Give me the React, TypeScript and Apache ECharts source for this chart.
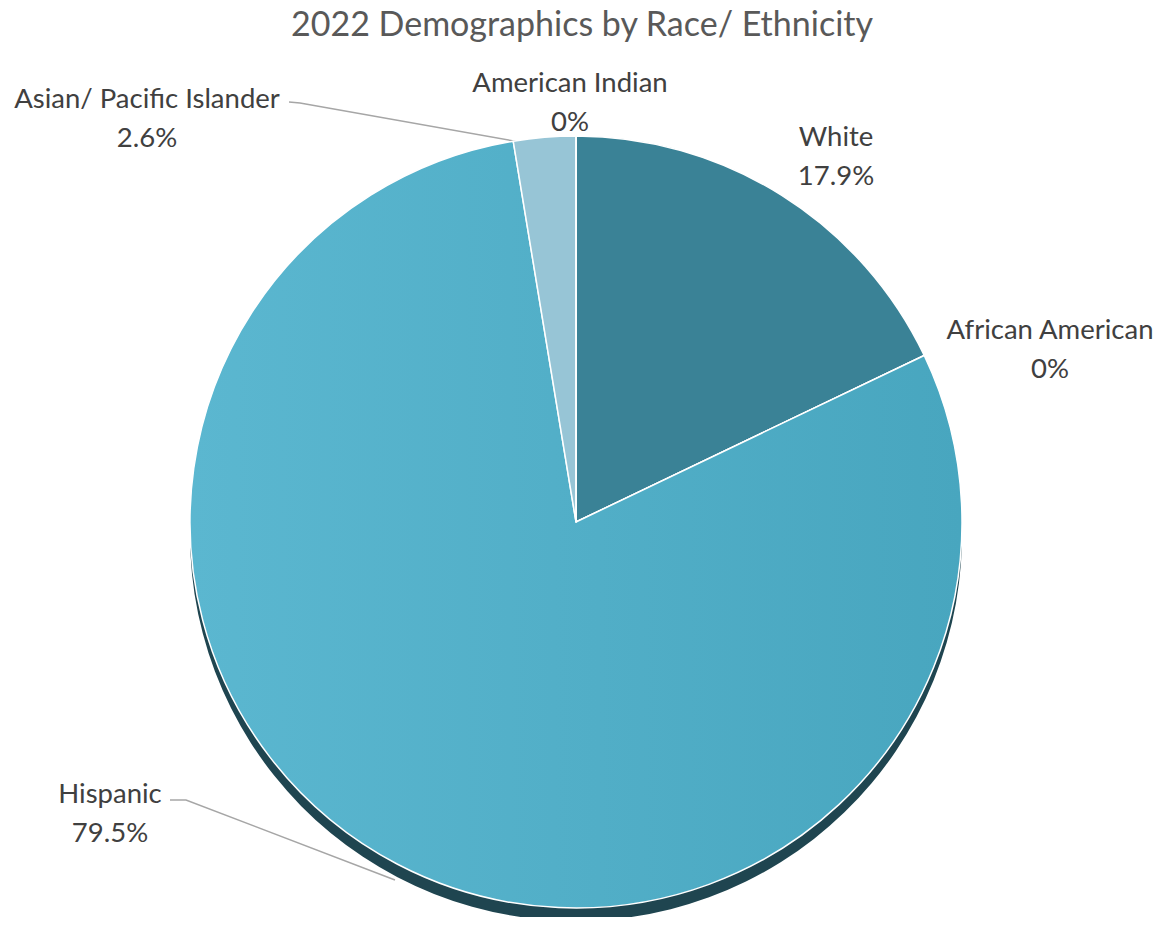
import React, { useEffect, useRef } from "react";
import * as echarts from "echarts";

const categories = ["White", "African American", "Hispanic", "Asian/ Pacific Islander", "American Indian"];
const percentages = [17.9, 0, 79.5, 2.6, 0];
const titleText = "2022 Demographics by Race/ Ethnicity";

const sliceColors = [
  "#3a8296",
  "#4aa8c1",
  {
    type: "linear", x: 0, y: 0, x2: 1, y2: 0,
    colorStops: [
      { offset: 0, color: "#5bb7d0" },
      { offset: 1, color: "#48a6bf" },
    ],
  },
  "#97c5d6",
  "#97c5d6",
];

// label anchor centres (layout only)
const labelCenters: [number, number][] = [
  [836, 155],
  [1050, 348],
  [110, 812],
  [147, 117],
  [570, 101],
];
const labelLines: ([number, number][] | null)[] = [
  null,
  null,
  [[170, 800], [186, 800], [395, 880]],
  [[289, 102], [300, 103], [542, 146]],
  null,
];

export default function App() {
  const ref = useRef<HTMLDivElement>(null);
  useEffect(() => {
    if (!ref.current) return;
    const chart = echarts.init(ref.current, null, { renderer: "svg" });
    const data = categories.map((name, i) => ({
      name,
      value: percentages[i],
      itemStyle: { color: sliceColors[i] as any },
      labelLine: { show: labelLines[i] !== null },
    }));
    const depthData = categories.map((name, i) => ({
      name,
      value: percentages[i],
    }));
    chart.setOption({
      animation: false,
      title: {
        text: titleText,
        left: "center",
        top: 0,
        textStyle: {
          fontFamily: "Lato",
          fontSize: 34,
          fontWeight: "normal",
          color: "#595959",
        },
      },
      series: [
        {
          type: "pie",
          silent: true,
          center: [576, 535],
          radius: 386,
          startAngle: 90,
          clockwise: true,
          z: 1,
          data: depthData,
          itemStyle: { color: "#1f4550", borderWidth: 0 },
          label: { show: false },
          labelLine: { show: false },
        },
        {
          type: "pie",
          center: [576, 522],
          radius: 386,
          startAngle: 90,
          clockwise: true,
          z: 2,
          avoidLabelOverlap: false,
          minShowLabelAngle: 0,
          data,
          itemStyle: { borderColor: "#ffffff", borderWidth: 1.5 },
          label: {
            show: true,
            position: "outside",
            formatter: "{b}\n{c}%",
            fontFamily: "Lato",
            fontSize: 27.5,
            lineHeight: 39,
            color: "#404040",
            align: "center",
          },
          labelLine: {
            lineStyle: { color: "#a6a6a6", width: 1.5 },
          },
          labelLayout: (params: any) => {
            const i = params.dataIndex;
            const [x, y] = labelCenters[i];
            const res: any = {
              x,
              y,
              align: "center",
              verticalAlign: "middle",
              hideOverlap: false,
              moveOverlap: null,
            };
            if (labelLines[i]) res.labelLinePoints = labelLines[i];
            return res;
          },
        },
      ],
    });
    return () => chart.dispose();
  }, []);
  return <div ref={ref} style={{ width: 1164, height: 925, margin: -8 }} />;
}
